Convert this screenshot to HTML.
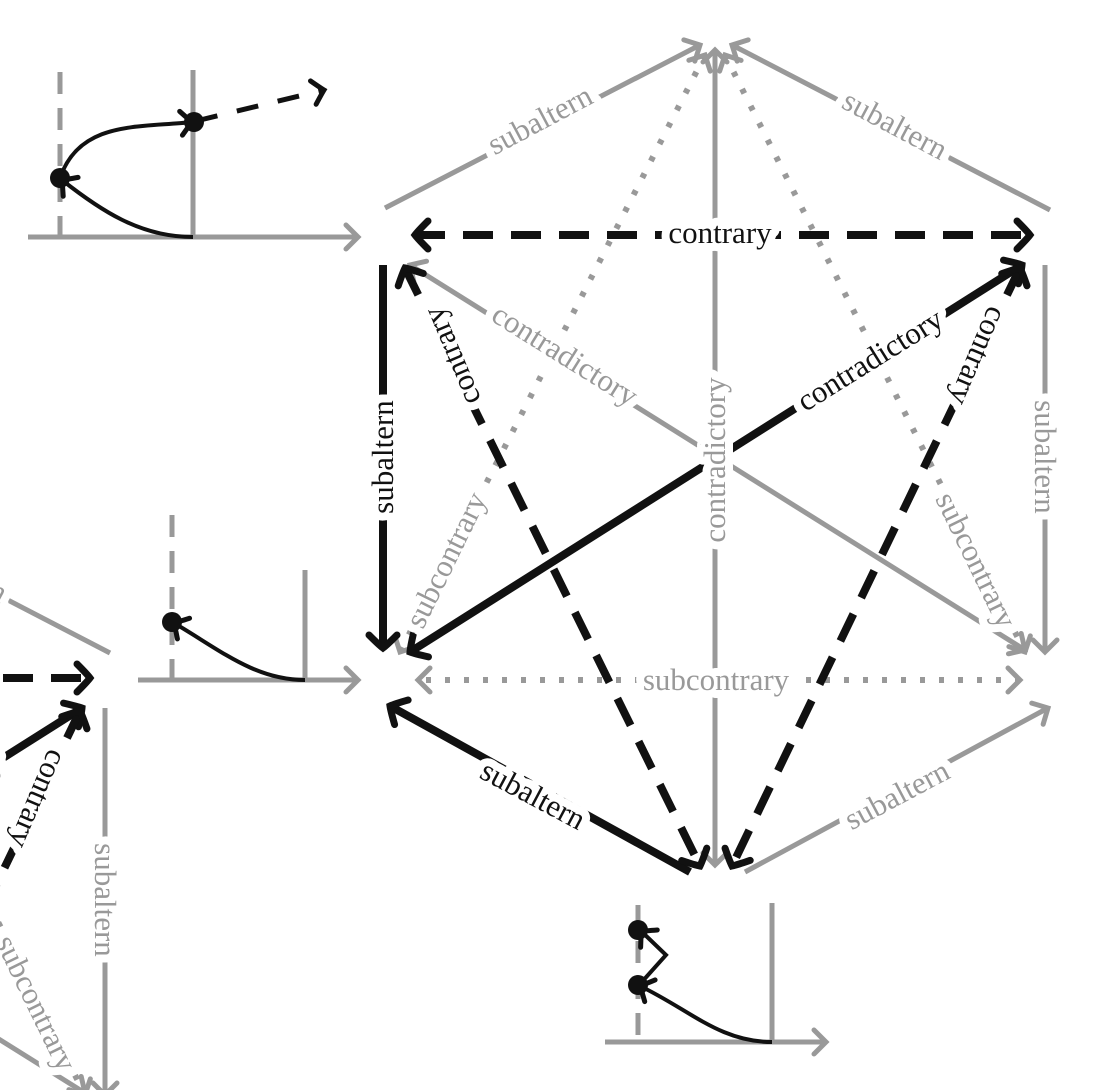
<!DOCTYPE html>
<html><head><meta charset="utf-8"><style>
html,body{margin:0;padding:0;background:#fff;overflow:hidden;width:1099px;height:1090px;}
svg{display:block;}
text{font-family:"Liberation Serif",serif;font-size:31px;paint-order:stroke;stroke:#fff;stroke-width:16px;stroke-linejoin:round;}
.g{fill:#999;}
.k{fill:#111;}
</style></head><body>
<svg width="1099" height="1090" viewBox="0 0 1099 1090" xmlns="http://www.w3.org/2000/svg">
<defs>
<marker id="ag" markerUnits="userSpaceOnUse" markerWidth="40" markerHeight="40" refX="0" refY="0" viewBox="-20 -20 40 40" orient="auto-start-reverse" overflow="visible">
<path d="M-12,-12 Q-3,-3 0,0 Q-3,3 -12,12" fill="none" stroke="#999" stroke-width="5" stroke-linecap="round"/></marker>
<marker id="ak" markerUnits="userSpaceOnUse" markerWidth="40" markerHeight="40" refX="0" refY="0" viewBox="-20 -20 40 40" orient="auto-start-reverse" overflow="visible">
<path d="M-13,-14 Q-3,-4 0,0 Q-3,4 -13,14" fill="none" stroke="#111" stroke-width="7" stroke-linecap="round"/></marker>
<marker id="akt" markerUnits="userSpaceOnUse" markerWidth="40" markerHeight="40" refX="0" refY="0" viewBox="-20 -20 40 40" orient="auto-start-reverse" overflow="visible">
<path d="M-11,-12 Q-3,-3 0,0 Q-3,3 -11,12" fill="none" stroke="#111" stroke-width="5" stroke-linecap="round"/></marker>
</defs>

<g id="hex">
<g stroke="#999" stroke-width="5" fill="none">
<line x1="385" y1="208" x2="700" y2="45" marker-end="url(#ag)"/>
<line x1="1050" y1="210" x2="732" y2="45" marker-end="url(#ag)"/>
<line x1="1025" y1="650" x2="410" y2="265" marker-start="url(#ag)" marker-end="url(#ag)"/>
<line x1="715" y1="865" x2="715" y2="50" marker-start="url(#ag)" marker-end="url(#ag)"/>
<line x1="1045" y1="265" x2="1045" y2="652" marker-end="url(#ag)"/>
<line x1="745" y1="872" x2="1048" y2="708" marker-end="url(#ag)"/>
<g stroke-dasharray="5,14" stroke-width="6">
<line x1="705" y1="55" x2="400" y2="652" marker-start="url(#ag)" marker-end="url(#ag)"/>
<line x1="725" y1="55" x2="1025" y2="652" marker-start="url(#ag)" marker-end="url(#ag)"/>
<line x1="1020" y1="680" x2="418" y2="680" marker-start="url(#ag)" marker-end="url(#ag)"/>
</g>
</g>
<g stroke="#111" stroke-width="8" fill="none">
<line x1="383" y1="265" x2="383" y2="648" marker-end="url(#ak)"/>
<line x1="690" y1="872" x2="390" y2="706" marker-end="url(#ak)"/>
<line x1="410" y1="652" x2="1022" y2="265" marker-start="url(#ak)" marker-end="url(#ak)"/>
<g stroke-dasharray="30,18">
<line x1="415" y1="235" x2="1030" y2="235" marker-start="url(#ak)" marker-end="url(#ak)"/>
<line x1="405" y1="268" x2="700" y2="866" marker-start="url(#ak)" marker-end="url(#ak)"/>
<line x1="1020" y1="268" x2="732" y2="866" marker-start="url(#ak)" marker-end="url(#ak)"/>
</g>
</g>
<text class="g" x="540" y="130" text-anchor="middle" transform="rotate(-28 540 120)">subaltern</text>
<text class="g" x="895" y="135" text-anchor="middle" transform="rotate(28 895 125)">subaltern</text>
<text class="k" x="720" y="243" text-anchor="middle">contrary</text>
<text class="g" x="565" y="365" text-anchor="middle" transform="rotate(32 565 355)">contradictory</text>
<text class="k" x="870" y="370" text-anchor="middle" transform="rotate(-32 870 360)">contradictory</text>
<text class="g" x="715" y="470" text-anchor="middle" transform="rotate(-90 715 460)">contradictory</text>
<text class="k" x="383" y="467" text-anchor="middle" transform="rotate(-90 383 457)">subaltern</text>
<text class="g" x="1045" y="467" text-anchor="middle" transform="rotate(90 1045 457)">subaltern</text>
<text class="k" x="452" y="366" text-anchor="middle" transform="rotate(-113 452 356)">contrary</text>
<text class="k" x="978" y="366" text-anchor="middle" transform="rotate(113 978 356)">contrary</text>
<text class="g" x="446" y="570" text-anchor="middle" transform="rotate(-64 446 560)">subcontrary</text>
<text class="g" x="976" y="570" text-anchor="middle" transform="rotate(64 976 560)">subcontrary</text>
<text class="g" x="716" y="690" text-anchor="middle">subcontrary</text>
<text class="k" x="533" y="805" text-anchor="middle" transform="rotate(28 533 795)">subaltern</text>
<text class="g" x="897" y="805" text-anchor="middle" transform="rotate(-28 897 795)">subaltern</text>
</g>

<use href="#hex" transform="translate(-940,443)"/>

<g fill="none">
<line x1="28" y1="237" x2="358" y2="237" stroke="#999" stroke-width="5" marker-end="url(#ag)"/>
<line x1="193" y1="70" x2="193" y2="237" stroke="#999" stroke-width="5"/>
<line x1="60" y1="72" x2="60" y2="237" stroke="#999" stroke-width="5" stroke-dasharray="22,14"/>
<path d="M193,237 C140,237 100,210 62,180" stroke="#111" stroke-width="4" marker-end="url(#akt)"/>
<path d="M60,178 C80,120 140,128 192,122" stroke="#111" stroke-width="4" marker-end="url(#akt)"/>
<line x1="196" y1="121" x2="324" y2="90" stroke="#111" stroke-width="5" stroke-dasharray="22,20" marker-end="url(#akt)"/>
<circle cx="60" cy="178" r="10" fill="#111"/>
<circle cx="194" cy="122" r="10" fill="#111"/>
</g>

<g fill="none">
<line x1="138" y1="680" x2="358" y2="680" stroke="#999" stroke-width="5" marker-end="url(#ag)"/>
<line x1="305" y1="570" x2="305" y2="680" stroke="#999" stroke-width="5"/>
<line x1="172" y1="515" x2="172" y2="680" stroke="#999" stroke-width="5" stroke-dasharray="22,14"/>
<path d="M305,680 C255,680 220,650 174,623" stroke="#111" stroke-width="4" marker-end="url(#akt)"/>
<circle cx="172" cy="622" r="10" fill="#111"/>
</g>

<g fill="none">
<line x1="605" y1="1042" x2="826" y2="1042" stroke="#999" stroke-width="5" marker-end="url(#ag)"/>
<line x1="772" y1="903" x2="772" y2="1042" stroke="#999" stroke-width="5"/>
<line x1="638" y1="905" x2="638" y2="1042" stroke="#999" stroke-width="5" stroke-dasharray="22,14"/>
<path d="M772,1042 C720,1042 690,1010 640,986" stroke="#111" stroke-width="4" marker-end="url(#akt)"/>
<path d="M640,984 L666,955 L641,931" stroke="#111" stroke-width="4" marker-end="url(#akt)"/>
<circle cx="638" cy="985" r="10" fill="#111"/>
<circle cx="638" cy="930" r="10" fill="#111"/>
</g>
</svg>
</body></html>
